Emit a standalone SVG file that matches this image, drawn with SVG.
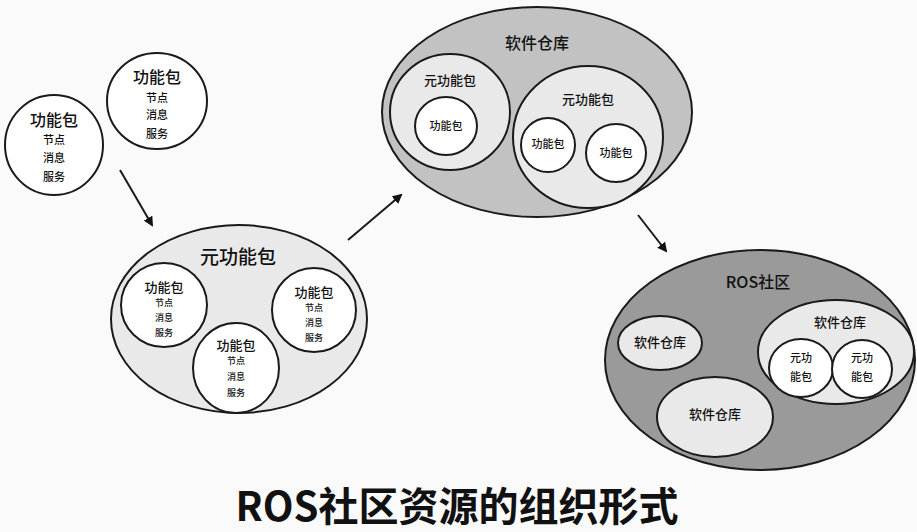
<svg xmlns="http://www.w3.org/2000/svg" width="917" height="532" viewBox="0 0 917 532">
<defs>
<style>
text{font-family:"Noto Sans CJK SC","Liberation Sans",sans-serif;fill:#111;text-anchor:middle;font-weight:500}
.n{stroke:#1a1a1a;stroke-width:2}
.w{fill:#fff}
.l{fill:#e9e9e9}
.m{fill:#c2c2c2}
.d{fill:#9a9a9a}
.t1{font-size:19px}
.t2{font-size:16px}
.t3{font-size:13px}
.s{font-size:11px}
.x{font-size:9px}
.e{stroke:#1a1a1a;stroke-width:2;fill:none}
</style>
<marker id="ah" markerWidth="10" markerHeight="10" refX="8" refY="5" orient="auto" markerUnits="userSpaceOnUse"><path d="M0,0 L10,5 L0,10 Z" fill="#111"/></marker>
</defs>
<rect width="917" height="532" fill="#fafafa"/>

<g id="pkg1">
<ellipse class="n w" cx="54" cy="145" rx="49" ry="50"/>
<text class="t2" x="54" y="126">功能包</text>
<text class="s" x="54" y="144">节点</text>
<text class="s" x="54" y="162">消息</text>
<text class="s" x="54" y="181">服务</text>
</g>

<g id="pkg2">
<ellipse class="n w" cx="157" cy="101" rx="50" ry="48"/>
<text class="t2" x="157" y="83">功能包</text>
<text class="s" x="157" y="102">节点</text>
<text class="s" x="157" y="119">消息</text>
<text class="s" x="157" y="138">服务</text>
</g>

<g id="meta">
<ellipse class="n l" cx="239" cy="319" rx="128" ry="94"/>
<text class="t1" x="238" y="264">元功能包</text>
<ellipse class="n w" cx="164" cy="305" rx="43" ry="42"/>
<text class="t3" x="164" y="292">功能包</text>
<text class="x" x="164" y="306">节点</text>
<text class="x" x="164" y="321">消息</text>
<text class="x" x="164" y="336">服务</text>
<ellipse class="n w" cx="236" cy="368" rx="43" ry="45"/>
<text class="t3" x="236" y="350">功能包</text>
<text class="x" x="236" y="364">节点</text>
<text class="x" x="236" y="380">消息</text>
<text class="x" x="236" y="396">服务</text>
<ellipse class="n w" cx="314" cy="310" rx="42" ry="42"/>
<text class="t3" x="314" y="297">功能包</text>
<text class="x" x="314" y="311">节点</text>
<text class="x" x="314" y="326">消息</text>
<text class="x" x="314" y="341">服务</text>
</g>

<g id="repo">
<ellipse class="n m" cx="537" cy="112" rx="155" ry="105"/>
<text class="t2" x="537" y="49">软件仓库</text>
<ellipse class="n l" cx="450" cy="112" rx="60" ry="58"/>
<text class="t3" x="450" y="85">元功能包</text>
<ellipse class="n w" cx="446" cy="126" rx="31" ry="29"/>
<text class="s" x="446" y="130">功能包</text>
<ellipse class="n l" cx="588" cy="137" rx="75" ry="71"/>
<text class="t3" x="588" y="104">元功能包</text>
<ellipse class="n w" cx="548" cy="145" rx="27" ry="27"/>
<text class="s" x="548" y="148">功能包</text>
<ellipse class="n w" cx="616" cy="153" rx="30" ry="29"/>
<text class="s" x="616" y="157">功能包</text>
</g>

<g id="community">
<ellipse class="n d" cx="760" cy="360" rx="155" ry="110"/>
<text class="t2" x="758" y="288">ROS社区</text>
<ellipse class="n l" cx="660" cy="343" rx="42" ry="27"/>
<text class="t3" x="660" y="347">软件仓库</text>
<ellipse class="n l" cx="715" cy="417" rx="58" ry="40"/>
<text class="t3" x="715" y="419">软件仓库</text>
<ellipse class="n l" cx="836" cy="352" rx="78" ry="52"/>
<text class="t3" x="840" y="327">软件仓库</text>
<ellipse class="n w" cx="801" cy="368" rx="32" ry="29"/>
<text class="s" x="801" y="362">元功</text>
<text class="s" x="801" y="381">能包</text>
<ellipse class="n w" cx="862" cy="369" rx="30" ry="29"/>
<text class="s" x="862" y="362">元功</text>
<text class="s" x="862" y="381">能包</text>
</g>

<g id="connectors">
<line class="e" x1="120" y1="170" x2="152" y2="225" marker-end="url(#ah)"/>
<line class="e" x1="348" y1="240" x2="401" y2="195" marker-end="url(#ah)"/>
<line class="e" x1="638" y1="215" x2="666" y2="251" marker-end="url(#ah)"/>
</g>

<text x="457" y="521" style="font-size:40px;font-weight:bold">ROS社区资源的组织形式</text>
</svg>
